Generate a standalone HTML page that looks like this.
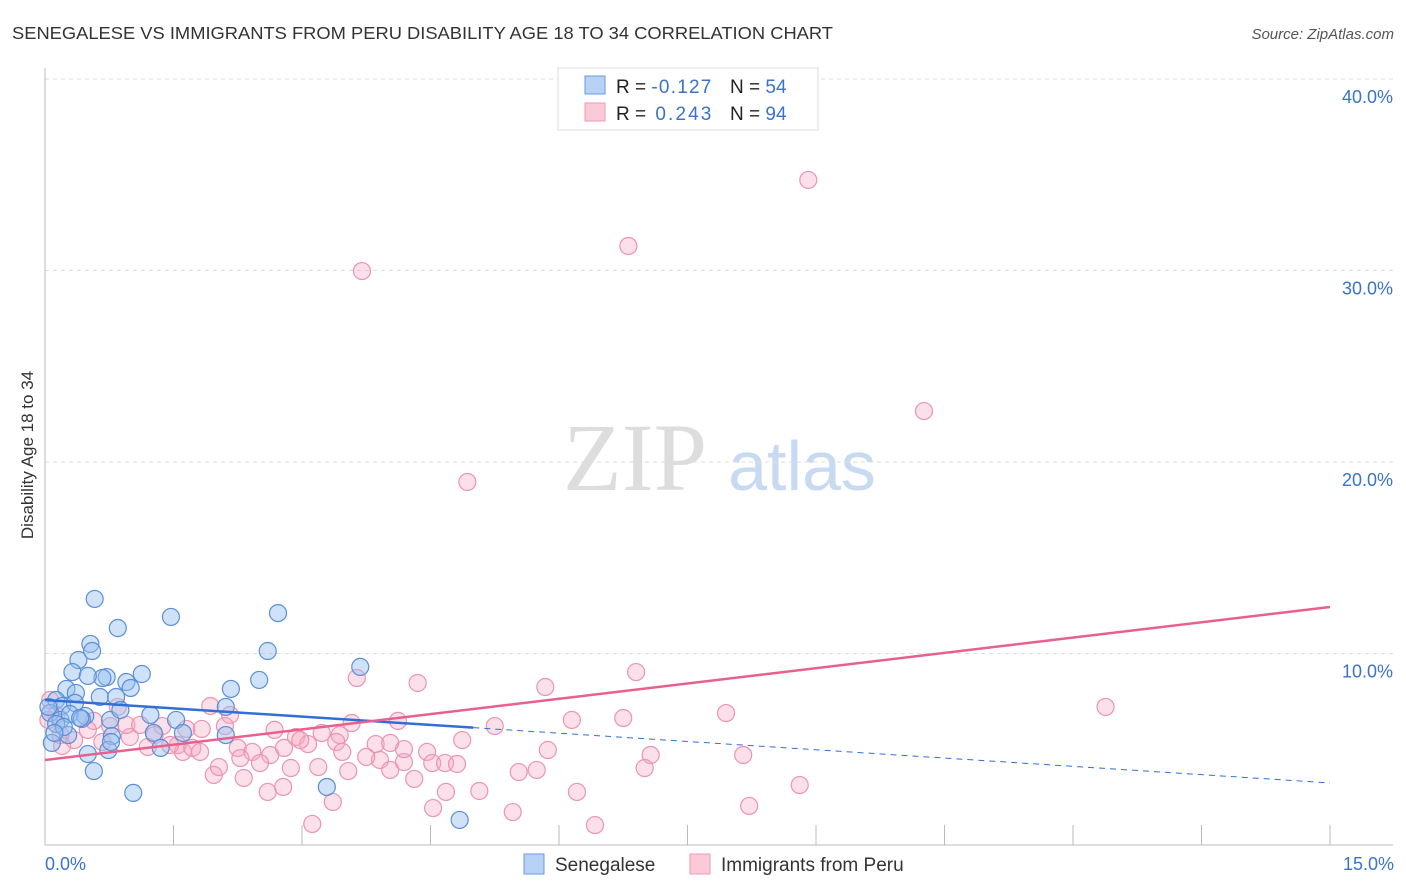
<!DOCTYPE html>
<html><head><meta charset="utf-8"><style>
body{margin:0;background:#fff;font-family:"Liberation Sans",sans-serif;}
svg{display:block}
</style></head><body>
<svg id="chart" width="1406" height="892" xmlns="http://www.w3.org/2000/svg">
<text x="12" y="39" font-size="17.5" fill="#333" textLength="821" lengthAdjust="spacingAndGlyphs">SENEGALESE VS IMMIGRANTS FROM PERU DISABILITY AGE 18 TO 34 CORRELATION CHART</text>
<text x="1394" y="39" font-size="15" fill="#555" font-style="italic" text-anchor="end">Source: ZipAtlas.com</text>
<g>
<text x="635" y="490" font-size="96" fill="#ddd" font-family="Liberation Serif,serif" text-anchor="middle">ZIP</text>
<text x="802" y="490" font-size="70" fill="#c8daf2" text-anchor="middle">atlas</text>
</g>
<g id="grid"></g>
<g id="axes"></g>
<g id="pinkPts"></g>
<g id="bluePts"></g>
<g id="trends"></g>
<text x="33" y="455" font-size="17" fill="#333" text-anchor="middle" transform="rotate(-90 33 455)">Disability Age 18 to 34</text>
<text x="45" y="870" font-size="18" fill="#3a73c8">0.0%</text>
<text x="1394" y="870" font-size="18" fill="#3a73c8" text-anchor="end">15.0%</text>
<g>
<rect x="558" y="68" width="260" height="62" fill="#fff" stroke="#ddd"/>
<rect x="585" y="76" width="20" height="18" fill="#b8d2f5" stroke="#6a9ae0"/>
<rect x="585" y="103" width="20" height="18" fill="#fbc9d8" stroke="#ec9ab5"/>
<text x="616" y="93" font-size="19" fill="#222">R = <tspan fill="#3a73c8" textLength="60">-0.127</tspan></text>
<text x="730" y="93" font-size="19" fill="#222">N = <tspan fill="#3a73c8">54</tspan></text>
<text x="616" y="120" font-size="19" fill="#222">R = <tspan fill="#3a73c8" dx="4" textLength="56">0.243</tspan></text>
<text x="730" y="120" font-size="19" fill="#222">N = <tspan fill="#3a73c8">94</tspan></text>
</g>
<g>
<rect x="524" y="854" width="20" height="20" fill="#b8d2f5" stroke="#6a9ae0"/>
<text x="555" y="871" font-size="19" fill="#333">Senegalese</text>
<rect x="690" y="854" width="20" height="20" fill="#fbc9d8" stroke="#ec9ab5"/>
<text x="721" y="871" font-size="19" fill="#333">Immigrants from Peru</text>
</g>
</svg>
<script>
const yTicks=[10,20,30,40];
const yTickLabels=["10.0%","20.0%","30.0%","40.0%"];
const xTicks=[0,1.5,3,4.5,6,7.5,9,10.5,12,13.5,15];
const blueX=[0.58,0.85,1.47,2.72,0.53,0.55,0.39,0.32,0.72,0.67,0.25,0.36,0.50,1.13,0.95,1.00,0.64,0.83,2.17,2.50,2.60,3.68,0.13,0.20,0.35,0.06,0.18,0.29,0.47,0.43,0.76,0.78,0.57,1.03,1.53,1.27,1.35,1.61,2.11,2.11,0.50,0.74,0.77,0.08,0.27,3.29,4.84,0.13,0.22,0.04,0.11,0.41,0.88,1.23];
const blueY=[12.85,11.33,11.91,12.11,10.50,10.13,9.66,9.03,8.77,8.72,8.15,7.94,8.83,8.93,8.51,8.20,7.73,7.73,8.15,8.62,10.13,9.30,7.57,7.26,7.42,6.89,6.53,6.84,6.74,6.58,6.53,5.69,3.86,2.72,6.53,5.85,5.07,5.85,7.21,5.74,4.75,4.96,5.38,5.33,5.74,3.03,1.31,6.32,6.16,7.21,5.85,6.63,7.05,6.79];
const pinkX=[8.91,6.81,3.70,10.26,4.93,3.64,4.35,5.84,6.90,12.38,7.95,6.75,6.15,5.25,4.12,3.58,3.44,2.93,2.68,3.07,2.16,1.93,1.83,1.65,1.37,1.28,1.55,1.61,1.72,1.20,0.99,0.95,0.85,0.76,0.57,0.50,0.34,0.18,0.06,0.04,0.20,0.67,2.10,2.25,2.42,2.63,2.79,2.51,2.87,3.19,3.40,3.47,3.54,3.86,4.03,3.91,4.19,4.46,4.52,4.67,4.87,4.81,4.31,4.68,5.07,5.53,5.74,5.87,6.21,6.42,5.46,4.53,3.36,3.12,1.97,2.03,2.32,2.60,2.78,7.07,7.00,8.15,8.22,8.81,3.75,3.23,4.19,2.28,1.46,1.11,1.81,4.03,2.98,0.13];
const pinkY=[34.73,31.28,29.97,22.66,18.96,8.72,8.46,8.25,9.03,7.21,6.89,6.63,6.53,6.21,6.48,6.37,5.74,5.64,6.01,5.27,6.79,7.26,6.06,6.06,6.21,5.74,5.22,4.86,5.07,5.12,5.64,6.27,7.21,6.21,6.48,6.01,5.48,5.74,7.57,6.53,5.17,5.38,6.21,5.07,4.86,4.70,5.07,4.28,4.02,4.07,5.38,4.86,3.86,5.27,5.33,4.44,4.33,4.86,4.28,4.28,5.48,4.23,3.45,2.77,2.82,3.81,3.92,4.96,2.77,1.04,1.72,1.93,2.25,1.10,3.66,4.07,3.50,2.77,3.03,4.70,4.02,4.70,2.04,3.13,4.60,5.85,5.01,4.54,5.22,6.27,4.86,3.92,5.48,6.79];
const blueTrend=[7.57,3.24]; // value at x=0 and x=15
const pinkTrend=[4.44,12.43];
const blueSolidEnd=5.0;

const NS="http://www.w3.org/2000/svg";
const X=v=>45+v/15*1285;
const Y=v=>845-v*19.15;
function mk(tag,attrs,parent){const e=document.createElementNS(NS,tag);for(const k in attrs)e.setAttribute(k,attrs[k]);parent.appendChild(e);return e;}
const grid=document.getElementById('grid'),axes=document.getElementById('axes');
yTicks.forEach((t,i)=>{
  const l=mk('line',{x1:45,x2:1393,y1:Y(t),y2:Y(t),stroke:'#ddd','stroke-dasharray':'4,4'},grid);
  
  
  const tx=mk('text',{x:1393,y:Y(t)+24,'font-size':18,fill:'#3a73c8','text-anchor':'end'},grid);
  tx.textContent=yTickLabels[i];
  
  
});
const ya=mk('line',{x1:45,x2:45,y1:68,y2:845,stroke:'#bbb'},axes);


const xa=mk('line',{x1:45,x2:1393,y1:845,y2:845,stroke:'#bbb'},axes);


xTicks.forEach(t=>{
  const l=mk('line',{x1:X(t),x2:X(t),y1:825,y2:845,stroke:'#bbb'},axes);
  
  
});
const pg=document.getElementById('pinkPts');
pinkX.forEach((x,i)=>{
  const c=mk('circle',{cx:X(x),cy:Y(pinkY[i]),r:8.5,fill:'rgba(245,165,192,0.35)',stroke:'#eb94b2','stroke-width':1.2},pg);
  
  
});
const bg=document.getElementById('bluePts');
blueX.forEach((x,i)=>{
  const c=mk('circle',{cx:X(x),cy:Y(blueY[i]),r:8.5,fill:'rgba(150,190,240,0.45)',stroke:'#5b8fd8','stroke-width':1.2},bg);
  
  
});
const tg=document.getElementById('trends');
const bAt=v=>blueTrend[0]+(blueTrend[1]-blueTrend[0])*v/15;
const t1=mk('line',{x1:X(0),y1:Y(bAt(0)),x2:X(blueSolidEnd),y2:Y(bAt(blueSolidEnd)),stroke:'#2f6fd6','stroke-width':2.5},tg);


const t2=mk('line',{x1:X(blueSolidEnd),y1:Y(bAt(blueSolidEnd)),x2:X(15),y2:Y(bAt(15)),stroke:'#2f6fd6','stroke-width':1,'stroke-dasharray':'6,5'},tg);


const t3=mk('line',{x1:X(0),y1:Y(pinkTrend[0]),x2:X(15),y2:Y(pinkTrend[1]),stroke:'#e8608e','stroke-width':2.5},tg);


</script>
</body></html>
